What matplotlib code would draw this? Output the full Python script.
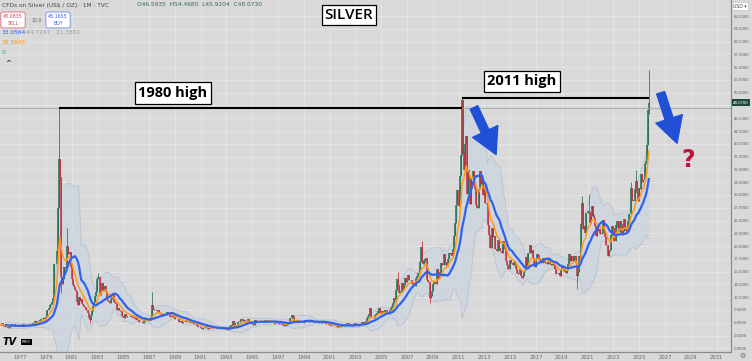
import numpy as np
import pandas as pd
import matplotlib
matplotlib.use("Agg")
import matplotlib.pyplot as plt
from matplotlib.patches import FancyArrowPatch
from matplotlib.transforms import blended_transform_factory

# monthly closes, first bar = May 1974
start_year, start_month = 1974, 5
monthly_close = [
    5.30, 4.80, 4.60, 4.70, 4.50, 4.90, 4.90, 4.40,                          # 1974 May-Dec
    4.50, 4.40, 4.30, 4.40, 4.50, 4.60, 4.70, 5.00, 4.40, 4.30, 4.20, 4.20,  # 1975
    4.10, 4.00, 4.00, 4.40, 4.60, 4.80, 4.70, 4.30, 4.30, 4.30, 4.30, 4.40,  # 1976
    4.40, 4.50, 4.60, 4.70, 4.50, 4.50, 4.40, 4.40, 4.50, 4.60, 4.80, 4.80,  # 1977
    4.90, 5.00, 5.30, 5.10, 5.30, 5.30, 5.40, 5.60, 5.70, 6.00, 5.80, 5.90,  # 1978
    6.10, 7.50, 7.40, 7.90, 8.40, 8.60, 9.00, 9.80, 16.40, 16.50, 19.00, 27.50,  # 1979
    37.00, 33.50, 14.00, 12.50, 13.50, 15.90, 15.80, 16.00, 20.00, 18.50, 18.80, 16.00,  # 1980
    13.50, 12.30, 12.00, 11.50, 11.20, 9.00, 8.40, 10.00, 9.30, 9.60, 8.60, 8.40,  # 1981
    8.00, 7.50, 7.40, 7.00, 6.00, 5.50, 6.60, 7.30, 8.20, 9.00, 10.20, 11.00,  # 1982
    13.50, 14.00, 10.50, 11.50, 12.80, 11.50, 11.90, 12.20, 11.00, 9.50, 9.20, 9.00,  # 1983
    8.80, 9.60, 10.50, 9.00, 8.90, 8.60, 7.40, 7.80, 7.40, 7.30, 7.30, 6.40,  # 1984
    6.20, 6.00, 6.80, 6.30, 6.20, 6.10, 6.20, 6.30, 6.20, 6.10, 5.90, 5.80,  # 1985
    5.90, 5.60, 5.60, 5.20, 5.20, 5.10, 5.00, 5.40, 5.70, 5.60, 5.40, 5.40,  # 1986
    5.50, 5.50, 6.10, 8.50, 7.60, 7.40, 7.50, 7.30, 7.50, 7.00, 6.90, 6.70,  # 1987
    6.40, 6.30, 6.50, 6.50, 6.50, 7.20, 6.80, 6.70, 6.20, 6.30, 6.20, 6.10,  # 1988
    5.80, 5.80, 5.70, 5.70, 5.20, 5.20, 5.30, 5.00, 5.10, 5.20, 5.50, 5.20,  # 1989
    5.20, 5.10, 4.90, 4.90, 5.10, 4.90, 4.80, 4.80, 4.70, 4.30, 4.20, 4.20,  # 1990
    3.90, 3.70, 3.90, 3.90, 4.10, 4.40, 3.90, 3.80, 4.10, 4.00, 4.10, 3.90,  # 1991
    4.10, 4.10, 4.00, 3.90, 4.00, 4.00, 3.90, 3.80, 3.70, 3.70, 3.70, 3.70,  # 1992
    3.70, 3.60, 3.80, 4.40, 4.60, 4.40, 5.30, 4.90, 4.20, 4.30, 4.60, 5.10,  # 1993
    5.10, 5.30, 5.70, 5.30, 5.50, 5.30, 5.20, 5.40, 5.70, 5.20, 4.90, 4.90,  # 1994
    4.80, 4.60, 4.50, 5.60, 5.40, 5.20, 5.10, 5.40, 5.40, 5.30, 5.20, 5.10,  # 1995
    5.60, 5.50, 5.50, 5.40, 5.40, 5.10, 5.10, 5.20, 4.90, 4.80, 4.80, 4.70,  # 1996
    4.70, 5.30, 5.00, 4.70, 4.80, 4.60, 4.30, 4.60, 4.90, 4.80, 5.10, 6.00,  # 1997
    6.00, 6.60, 6.30, 5.40, 5.10, 5.50, 5.40, 4.90, 5.00, 5.00, 4.90, 5.00,  # 1998
    5.40, 5.50, 5.20, 5.10, 5.30, 5.20, 5.30, 5.20, 5.60, 5.10, 5.20, 5.40,  # 1999
    5.20, 5.20, 5.00, 5.00, 5.10, 5.00, 4.90, 4.90, 4.90, 4.80, 4.70, 4.60,  # 2000
    4.60, 4.40, 4.30, 4.40, 4.40, 4.30, 4.30, 4.20, 4.70, 4.20, 4.10, 4.60,  # 2001
    4.30, 4.50, 4.60, 4.60, 4.90, 4.90, 4.70, 4.60, 4.60, 4.40, 4.60, 4.70,  # 2002
    4.90, 4.60, 4.40, 4.60, 4.60, 4.60, 5.10, 5.00, 5.10, 5.00, 5.30, 5.90,  # 2003
    6.30, 6.70, 7.90, 6.10, 6.10, 5.90, 6.60, 6.80, 7.00, 7.30, 7.80, 6.80,  # 2004
    6.70, 7.30, 7.10, 6.90, 7.40, 7.10, 7.10, 6.80, 7.50, 7.80, 8.30, 8.80,  # 2005
    9.80, 9.50, 11.50, 13.60, 12.40, 10.80, 11.30, 12.80, 11.50, 12.30, 13.80, 12.90,  # 2006
    13.40, 14.30, 13.30, 13.30, 13.40, 12.50, 12.90, 12.10, 13.80, 14.10, 14.70, 14.80,  # 2007
    16.80, 19.80, 17.30, 16.50, 16.90, 17.50, 17.60, 13.40, 12.90, 9.90, 10.20, 11.30,  # 2008
    12.60, 13.00, 13.10, 12.50, 15.60, 13.60, 13.90, 14.90, 16.60, 16.30, 18.50, 16.80,  # 2009
    16.20, 16.10, 17.50, 18.70, 18.50, 18.70, 18.00, 19.40, 22.00, 24.60, 28.00, 30.90,  # 2010
    27.90, 33.80, 37.90, 48.60, 38.30, 34.80, 39.90, 41.50, 30.10, 34.80, 32.70, 28.20,  # 2011
    33.20, 34.70, 32.50, 31.20, 28.00, 27.40, 27.40, 31.20, 34.60, 32.20, 33.00, 30.00,  # 2012
    31.80, 28.40, 28.30, 24.10, 22.20, 19.70, 19.60, 23.60, 21.70, 21.90, 19.50, 19.50,  # 2013
    19.10, 21.20, 19.70, 19.10, 18.70, 21.00, 20.40, 19.40, 17.10, 16.20, 15.50, 15.60,  # 2014
    17.20, 16.60, 16.60, 16.30, 16.80, 15.60, 14.80, 14.60, 14.50, 15.50, 14.10, 13.80,  # 2015
    14.10, 15.00, 15.40, 17.90, 16.00, 18.70, 20.30, 18.70, 19.20, 17.60, 16.50, 16.00,  # 2016
    17.50, 18.40, 18.20, 17.30, 17.50, 16.60, 16.70, 17.60, 16.70, 16.70, 16.50, 17.00,  # 2017
    17.30, 16.50, 16.30, 16.40, 16.40, 16.10, 15.50, 14.60, 14.60, 14.70, 14.20, 15.50,  # 2018
    16.00, 15.60, 15.10, 15.00, 14.80, 15.30, 16.40, 18.40, 17.00, 18.10, 17.00, 17.90,  # 2019
    18.00, 16.70, 14.10, 15.00, 18.00, 17.80, 24.40, 28.50, 23.40, 23.90, 22.60, 26.40,  # 2020
    26.90, 26.70, 24.50, 25.90, 27.90, 26.00, 25.50, 23.90, 22.00, 24.00, 23.00, 23.30,  # 2021
    22.40, 22.50, 25.10, 23.00, 21.70, 20.30, 20.30, 18.00, 19.00, 19.20, 22.20, 24.00,  # 2022
    23.60, 20.90, 24.10, 25.00, 23.60, 22.80, 24.90, 24.40, 22.20, 22.90, 25.30, 23.80,  # 2023
    22.90, 22.70, 24.90, 26.30, 31.30, 29.10, 28.90, 28.90, 31.10, 32.70, 30.40, 28.90,  # 2024
    31.30, 31.20, 34.10, 32.60, 33.00, 36.00, 36.60, 39.70, 46.59, 48.07,                # 2025 Jan-Oct
]

# wicks that stick out of the bodies
wick_high = {"1980-01": 47.1, "1980-09": 23.5, "1983-02": 14.7, "1987-04": 11.0,
             "2006-05": 14.9, "2008-03": 21.0, "2011-04": 48.9, "2020-08": 29.8,
             "2021-02": 30.1, "2024-05": 32.5, "2024-10": 34.9, "2025-10": 54.47}
wick_low = {"1980-03": 10.8, "1982-06": 4.9, "2008-10": 8.8, "2020-03": 11.7,
            "2025-10": 45.92}

high_1980 = 47.1
high_2011 = 48.9
last_price = 48.07

year_ticks = list(range(1977, 2032, 2))
price_ticks = np.arange(0, 65.01, 2.5)

# ---- build OHLC ----
n = len(monthly_close)
idx = pd.period_range(f"{start_year}-{start_month:02d}", periods=n, freq="M")
t = np.array([p.year + (p.month - 1) / 12 for p in idx])
close = np.array(monthly_close)
open_ = np.r_[close[0], close[:-1]]
high = np.maximum(open_, close)
low = np.minimum(open_, close)
keys = [str(p) for p in idx]
for k, v in wick_high.items():
    high[keys.index(k)] = v
for k, v in wick_low.items():
    low[keys.index(k)] = v
up = close >= open_

s = pd.Series(close)
basis = s.rolling(20).mean()
dev = s.rolling(20).std(ddof=0)
upper = basis + 2 * dev
lower = basis - 2 * dev
ema = s.ewm(span=10, adjust=False).mean()

# ---- figure ----
W, H = 752, 361
bg = "#d9d9d9"
fig = plt.figure(figsize=(W / 100, H / 100), dpi=100, facecolor=bg)
ax = fig.add_axes([0, 9 / H, 731 / W, 352 / H], facecolor=bg)
ax.set_xlim(1975.45, 2032.12)
ax.set_ylim(-0.72, 68.13)

ax.set_xticks(year_ticks)
ax.set_xticklabels([str(y) for y in year_ticks])
ax.set_yticks(price_ticks)
# the label under the price tag is hidden, as on the platform
ax.set_yticklabels(["" if abs(v - last_price) < 1.5 else f"{v:.4f}" for v in price_ticks])
ax.yaxis.tick_right()
ax.tick_params(axis="x", length=0, pad=2, labelsize=3.8, labelcolor="#666666")
ax.tick_params(axis="y", length=0, pad=2, labelsize=3.2, labelcolor="#666666")
for lab in ax.get_yticklabels():
    lab.set_family("Liberation Sans")
ax.grid(True, color="#e3e5e9", lw=0.6)
ax.set_axisbelow(True)
for sp in ["top", "left"]:
    ax.spines[sp].set_visible(False)
for sp in ["bottom", "right"]:
    ax.spines[sp].set_color("#8c8c8c")
    ax.spines[sp].set_linewidth(0.9)

# bollinger band
ax.fill_between(t, lower, upper, color="#c6d3e2", alpha=0.55, lw=0, zorder=1)
ax.plot(t, upper, color="#b7c3d1", lw=0.6, zorder=1)
ax.plot(t, lower, color="#b7c3d1", lw=0.6, zorder=1)

# candles
green, red = "#22704f", "#c62f3e"
for m, c in [(up, green), (~up, red)]:
    ax.vlines(t[m], low[m], high[m], color=c, lw=0.55, zorder=2)
    ax.vlines(t[m], np.minimum(open_, close)[m], np.maximum(open_, close)[m],
              color=c, lw=1.1, zorder=2)

ax.plot(t, ema, color="#ff9a1a", lw=1.1, zorder=3)
ax.plot(t, basis, color="#2f62f0", lw=1.6, zorder=4)

# level lines
ax.axhline(high_1980, color="#a6a6a6", lw=0.6, zorder=2)
ax.hlines(high_1980, 1980.0, 2011.25, color="black", lw=1.5, zorder=5)
ax.hlines(high_2011, 2011.25, 2025.75, color="black", lw=1.5, zorder=5)

box = dict(boxstyle="square,pad=0.25", fc="white", ec="black", lw=0.9)
ax.text(1988.86, 49.96, "1980 high", fontsize=10.5, fontweight="bold",
        family="Open Sans", ha="center", va="center", bbox=box, zorder=6)
ax.text(2015.9, 52.2, "2011 high", fontsize=10.5, fontweight="bold",
        family="Open Sans", ha="center", va="center", bbox=box, zorder=6)

arrow_style = "simple,head_length=2.3,head_width=2.5,tail_width=0.75"
for tail, tip in [((2012.1, 47.6), (2014.0, 37.4)), ((2026.6, 50.5), (2028.0, 39.6))]:
    ax.add_patch(FancyArrowPatch(tail, tip, arrowstyle=arrow_style, mutation_scale=8,
                                 color="#2150d6", zorder=6))
ax.text(2028.8, 36.9, "?", fontsize=17, fontweight="bold", color="#c0143c",
        ha="center", va="center", zorder=6)

# last price tag
tr = blended_transform_factory(ax.transAxes, ax.transData)
ax.text(1.003, last_price, f"{last_price:.4f}", transform=tr, fontsize=3.2,
        family="Liberation Sans", color="white", ha="left", va="center",
        bbox=dict(boxstyle="square,pad=0.35", fc="#1b4a37", ec="none"))


def px(x, y):
    return x / W, 1 - y / H


fig.text(*px(349, 15), "SILVER", fontsize=11, fontweight="semibold", family="Open Sans",
         ha="center", va="center",
         bbox=dict(boxstyle="square,pad=0.2", fc="white", ec="black", lw=0.9))

small = dict(fontsize=4.2, va="center", ha="left")
fig.text(*px(2, 5), "CFDs on Silver (US$ / OZ) · 1M · TVC", color="#444444", **small)
fig.text(*px(137, 5), "O46.5935  H54.4680  L45.9204  C48.0730", color="#3a6a55", **small)
fig.text(*px(13, 20), "48.0835\nSELL", color="#d9404f", fontsize=3.4, ha="center",
         va="center", linespacing=1.3,
         bbox=dict(boxstyle="round,pad=0.5", fc="white", ec="#e07a84", lw=0.7))
fig.text(*px(37, 20), "12.0", color="#666666", fontsize=3.4, ha="center", va="center")
fig.text(*px(58, 20), "48.1655\nBUY", color="#3762d6", fontsize=3.4, ha="center",
         va="center", linespacing=1.3,
         bbox=dict(boxstyle="round,pad=0.5", fc="white", ec="#7b9be6", lw=0.7))
fig.text(*px(2, 33), "33.0564", color="#2f62f0", **small)
fig.text(*px(26, 33), "44.7247   21.3881", color="#a0a0a0", **small)
fig.text(*px(2, 43), "38.5645", color="#ff9a1a", **small)
fig.text(*px(2, 53), "0", color="#26a69a", **small)
fig.text(*px(5, 63), "^", color="#333333", fontsize=5, fontweight="bold", ha="left", va="center")

fig.text(*px(3, 342), "TV", fontsize=7, fontweight="heavy", style="italic", color="black",
         ha="left", va="center")
fig.text(*px(22, 342), "PRO", fontsize=3, color="white", ha="left", va="center",
         bbox=dict(boxstyle="square,pad=0.3", fc="black", ec="none"))

fig.text(*px(740, 6), "USD ▾", fontsize=3.3, color="#444444", ha="center", va="center",
         bbox=dict(boxstyle="square,pad=0.3", fc="white", ec="#bbbbbb", lw=0.4))
fig.text(*px(742, 356), "⚙", fontsize=5, color="#666666", ha="center", va="center")

fig.savefig("out.png", dpi=100, facecolor=bg)
